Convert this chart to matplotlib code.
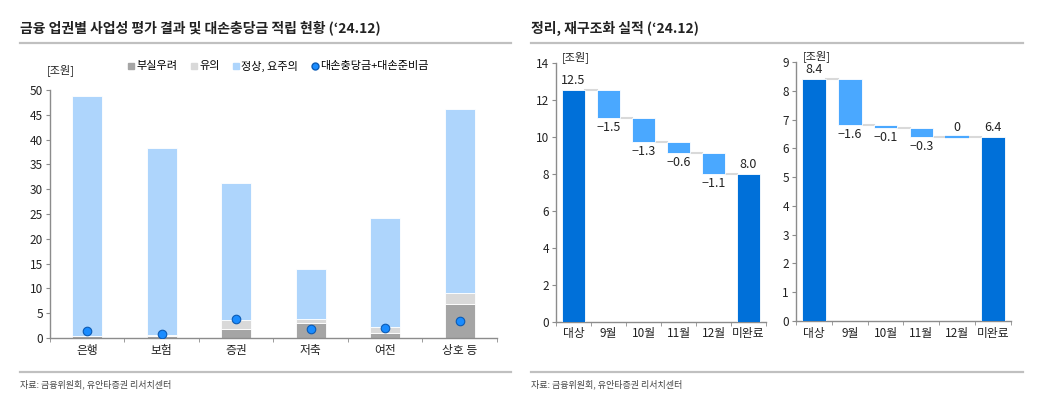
import matplotlib
matplotlib.use('Agg')
import matplotlib.pyplot as plt
from matplotlib.lines import Line2D
import numpy as np

plt.rcParams['font.family'] = ['Noto Sans CJK KR', 'DejaVu Sans']
plt.rcParams['axes.unicode_minus'] = False

# left chart data
sectors = ['은행', '보험', '증권', '저축', '여전', '상호 등']
risk = [0.3, 0.4, 1.9, 2.95, 1.0, 6.8]        # 부실우려
caution = [0.1, 0.3, 1.7, 0.8, 1.3, 2.3]      # 유의
normal = [48.4, 37.6, 27.7, 10.25, 21.9, 37.1]  # 정상, 요주의
reserves = [1.5, 0.9, 3.8, 1.9, 1.95, 3.35]   # 대손충당금+대손준비금

# waterfall data
wf_labels = ['대상', '9월', '10월', '11월', '12월', '미완료']
wf_a = [12.5, -1.5, -1.3, -0.6, -1.1, 8.0]
wf_b = [8.4, -1.6, -0.1, -0.3, 0, 6.4]

DARK = '#0070d9'
LIGHT = '#4aa8ff'
GRID = '#8c8c8c'
TXT = '#222222'

fig = plt.figure(figsize=(10.37, 3.98), dpi=100)


def style_axis(ax):
    for s in ['top', 'right']:
        ax.spines[s].set_visible(False)
    for s in ['left', 'bottom']:
        ax.spines[s].set_color(GRID)
        ax.spines[s].set_linewidth(1.0)
    ax.tick_params(axis='y', direction='out', length=3, color=GRID, labelsize=8.5, labelcolor=TXT, pad=2)
    ax.tick_params(axis='x', which='major', length=0, labelsize=8.5, labelcolor=TXT, pad=4)
    ax.tick_params(axis='x', which='minor', direction='out', length=3, color=GRID)


# ---- left stacked bars
ax1 = fig.add_axes([0.0482, 0.1508, 0.431, 0.623])
x = np.arange(len(sectors))
w = 0.4
risk = np.array(risk)
caution = np.array(caution)
normal = np.array(normal)
ax1.bar(x, risk, w, color='#a5a5a5', edgecolor='white', linewidth=0.6)
ax1.bar(x, caution, w, bottom=risk, color='#d9d9d9', edgecolor='white', linewidth=0.6)
ax1.bar(x, normal, w, bottom=risk + caution, color='#aed5fc', edgecolor='white', linewidth=0.6)
ax1.scatter(x, reserves, s=38, color='#1a8cff', edgecolor='#0b5bb5', linewidth=0.8, zorder=5)
ax1.set_xlim(-0.5, len(sectors) - 0.5)
ax1.set_ylim(0, 50)
ax1.set_yticks(range(0, 51, 5))
ax1.set_xticks(x)
ax1.set_xticklabels(sectors)
ax1.set_xticks(np.arange(-0.5, len(sectors), 1), minor=True)
style_axis(ax1)

handles = [
    Line2D([], [], marker='s', ls='', color='#a5a5a5', markersize=5),
    Line2D([], [], marker='s', ls='', color='#d9d9d9', markersize=5),
    Line2D([], [], marker='s', ls='', color='#aed5fc', markersize=5),
    Line2D([], [], marker='o', ls='', color='#1a8cff', markeredgecolor='#0b5bb5', markersize=5),
]
fig.legend(handles, ['부실우려', '유의', '정상, 요주의', '대손충당금+대손준비금'],
           loc='center left', bbox_to_anchor=(128 / 1037, 1 - 66 / 398), ncol=4,
           frameon=False, fontsize=8, handlelength=0.6, handletextpad=0.15,
           columnspacing=1.2, borderaxespad=0, borderpad=0)
fig.text(47 / 1037, 1 - 70 / 398, '[조원]', fontsize=8, color=TXT, va='center')


# ---- waterfalls
def waterfall(ax, vals, ymax, ystep):
    n = len(vals)
    bw = 0.66
    level = vals[0]
    tops = []
    for i, v in enumerate(vals):
        if i == 0 or i == n - 1:
            ax.bar(i, v, bw, color=DARK, edgecolor='white', linewidth=0.6, zorder=3)
            ax.text(i, v + ymax * 0.012, f'{v:.1f}', ha='center', va='bottom', fontsize=9, color=TXT)
            tops.append(v)
        else:
            new = level + v
            if v == 0:
                ax.plot([i - bw / 2, i + bw / 2], [level, level], color=LIGHT, lw=1.6, zorder=3,
                        solid_capstyle='butt')
                ax.text(i, level + ymax * 0.012, '0', ha='center', va='bottom', fontsize=9, color=TXT)
            else:
                ax.bar(i, -v, bw, bottom=new, color=LIGHT, edgecolor='white', linewidth=0.6, zorder=3)
                ax.text(i, new - ymax * 0.012, f'{v:.1f}'.replace('-', '−'), ha='center', va='top',
                        fontsize=9, color=TXT)
            level = new
            tops.append(level)
    for i in range(n - 1):
        ax.plot([i + bw / 2, i + 1 - bw / 2], [tops[i], tops[i]], color='#d9d9d9', lw=1.5, zorder=2)
    ax.set_xlim(-0.5, n - 0.5)
    ax.set_ylim(0, ymax)
    ax.set_yticks(np.arange(0, ymax + 0.01, ystep))
    ax.set_xticks(range(n))
    ax.set_xticklabels(wf_labels)
    ax.set_xticks(np.arange(-0.5, n, 1), minor=True)
    style_axis(ax)
    ax.text(0.03, 1.0, '[조원]', transform=ax.transAxes, fontsize=8, color=TXT, va='bottom', ha='left')


ax2 = fig.add_axes([0.5362, 0.1917, 0.2025, 0.6508])
waterfall(ax2, wf_a, 14, 2)
ax3 = fig.add_axes([0.7676, 0.1935, 0.2073, 0.6508])
waterfall(ax3, wf_b, 9, 1)

# titles, rules, sources
fig.text(20 / 1037, 1 - 28 / 398, "금융 업권별 사업성 평가 결과 및 대손충당금 적립 현황 (\u201824.12)",
         fontsize=10, fontweight='bold', color=TXT, va='center')
fig.text(531 / 1037, 1 - 28 / 398, "정리, 재구조화 실적 (\u201824.12)",
         fontsize=10, fontweight='bold', color=TXT, va='center')
for x0, x1 in [(20, 511), (531, 1023)]:
    fig.add_artist(Line2D([x0 / 1037, x1 / 1037], [1 - 43 / 398] * 2, color='#c0c0c0', lw=1.6))
    fig.add_artist(Line2D([x0 / 1037, x1 / 1037], [1 - 372 / 398] * 2, color='#c0c0c0', lw=1.6))
fig.text(20 / 1037, 1 - 384 / 398, '자료: 금융위원회, 유안타증권 리서치센터', fontsize=6.5, color='#444444', va='center')
fig.text(531 / 1037, 1 - 384 / 398, '자료: 금융위원회, 유안타증권 리서치센터', fontsize=6.5, color='#444444', va='center')

fig.savefig('out.png', dpi=100)
